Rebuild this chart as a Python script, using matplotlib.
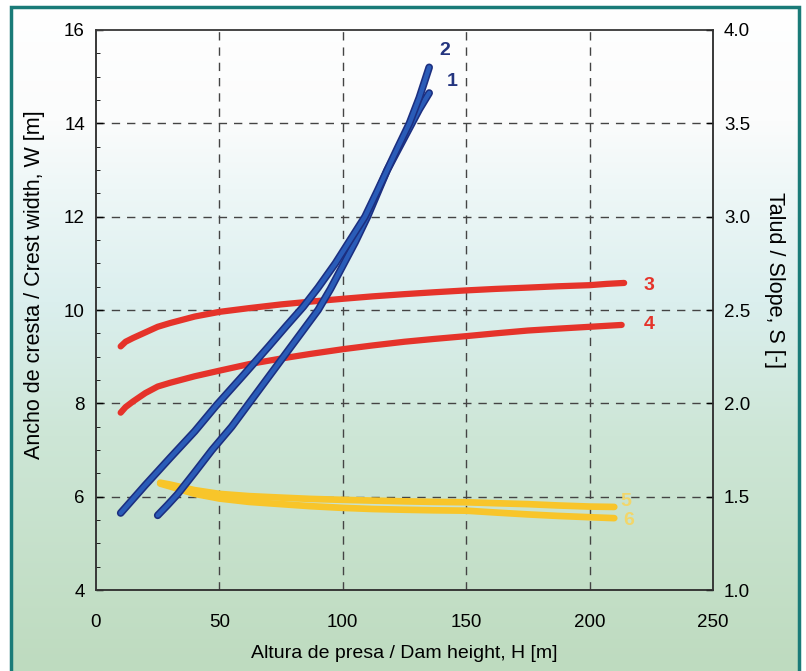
import numpy as np
import matplotlib
matplotlib.use('Agg')
import matplotlib.pyplot as plt
from matplotlib.colors import LinearSegmentedColormap
from matplotlib.patches import Rectangle
from matplotlib.ticker import MultipleLocator

# crest width curves (left axis, W [m])
H1 = [25, 29, 33, 40, 47, 55, 62, 69, 76, 83, 90, 95, 100, 105, 110, 114, 118, 123, 128, 131, 135]
W1 = [5.6, 5.82, 6.05, 6.52, 7.0, 7.5, 8.0, 8.5, 9.0, 9.5, 10.0, 10.45, 10.95, 11.45, 12.0,
      12.5, 13.0, 13.5, 14.0, 14.3, 14.65]
H2 = [10, 15, 20, 30, 40, 49, 60, 70, 77, 84, 90, 97, 103, 109, 114, 118, 122, 127, 131, 135]
W2 = [5.65, 5.95, 6.25, 6.83, 7.4, 7.97, 8.62, 9.22, 9.65, 10.07, 10.48, 11.0, 11.5, 12.0,
      12.55, 13.0, 13.45, 14.0, 14.55, 15.2]

# slope curves (right axis, S [-])
H3 = [10, 12, 15, 20, 25, 30, 40, 50, 62, 75, 87, 100, 112, 125, 137, 150, 162, 175, 187, 200, 207, 214]
S3 = [2.305, 2.33, 2.35, 2.38, 2.41, 2.43, 2.465, 2.49, 2.51, 2.53, 2.545, 2.56, 2.573,
      2.585, 2.595, 2.605, 2.613, 2.62, 2.627, 2.633, 2.64, 2.645]
H4 = [10, 12, 15, 20, 25, 30, 40, 50, 62, 75, 87, 100, 112, 125, 137, 150, 162, 175, 187, 200, 213]
S4 = [1.95, 1.98, 2.01, 2.055, 2.09, 2.11, 2.145, 2.175, 2.21, 2.24, 2.265, 2.29, 2.31,
      2.33, 2.345, 2.36, 2.375, 2.39, 2.4, 2.41, 2.42]
H5 = [26, 30, 40, 50, 62, 75, 87, 100, 112, 125, 137, 150, 162, 175, 187, 200, 210]
S5 = [1.575, 1.565, 1.535, 1.515, 1.503, 1.495, 1.488, 1.483, 1.479, 1.475, 1.472, 1.47,
      1.465, 1.46, 1.453, 1.447, 1.445]
H6 = [26, 30, 40, 50, 62, 75, 87, 100, 112, 125, 137, 150, 162, 175, 187, 200, 210]
S6 = [1.57, 1.555, 1.515, 1.49, 1.472, 1.46, 1.449, 1.44, 1.434, 1.43, 1.427, 1.425,
      1.415, 1.405, 1.397, 1.39, 1.385]

x_ticks = [0, 50, 100, 150, 200, 250]
w_ticks = [4, 6, 8, 10, 12, 14, 16]
s_ticks = [1.0, 1.5, 2.0, 2.5, 3.0, 3.5, 4.0]

BLUE, BLUE_EDGE = '#2a5cb8', '#1c2f80'
RED = '#e5332a'
YELLOW = '#f8c52a'

plt.rcParams.update({'font.family': 'Liberation Sans', 'font.size': 13.5})
fig = plt.figure(figsize=(8.06, 6.71), dpi=100)

# background gradient + teal frame
bg = fig.add_axes([0, 0, 1, 1], zorder=0)
cmap = LinearSegmentedColormap.from_list('bg', [
    (0.0, '#bedbbf'), (0.35, '#cde6d6'), (0.55, '#dbefee'),
    (0.72, '#eef7f7'), (0.82, '#fbfcfc'), (1.0, '#ffffff')])
grad = np.linspace(0, 1, 256).reshape(-1, 1)
bg.imshow(grad, cmap=cmap, origin='lower', aspect='auto', extent=[0, 1, 0, 1])
bg.add_patch(Rectangle((0, 0.992), 1, 0.008, color='white', transform=bg.transAxes, zorder=2))
bg.add_patch(Rectangle((0, 0), 0.013, 1, color='white', transform=bg.transAxes, zorder=2))
bg.add_patch(Rectangle((0.992, 0), 0.008, 1, color='white', transform=bg.transAxes, zorder=2))
bg.add_patch(Rectangle((0.0135, -0.01), 0.978, 1.0, fill=False, edgecolor='#1a7b78',
                       lw=2.5, transform=bg.transAxes, zorder=3))
bg.set_xlim(0, 1)
bg.set_ylim(0, 1)
bg.axis('off')

ax = fig.add_axes([0.1191, 0.1207, 0.7655, 0.8346], zorder=1)
ax.patch.set_alpha(0)
ax2 = ax.twinx()

ax.set_xlim(0, 250)
ax.set_ylim(4, 16)
ax2.set_ylim(1, 4)
ax.set_xticks(x_ticks)
ax.set_yticks(w_ticks)
ax.yaxis.set_minor_locator(MultipleLocator(0.5))
ax2.set_yticks(s_ticks)
ax2.set_yticklabels([f'{s:.1f}' for s in s_ticks])

for v in x_ticks[1:-1]:
    ax.axvline(v, color='#444444', lw=1.0, ls=(0, (6, 5)), zorder=0.5)
for v in w_ticks[1:-1]:
    ax.axhline(v, color='#444444', lw=1.0, ls=(0, (6, 5)), zorder=0.5)

ax.tick_params(direction='in', length=5, width=1, top=True, pad=8)
ax.tick_params(axis='y', which='minor', direction='in', length=3)
ax.tick_params(axis='x', length=0, pad=17)
ax2.tick_params(direction='in', length=5, width=1, pad=8)
for a in (ax, ax2):
    for sp in a.spines.values():
        sp.set_color('#333333')
        sp.set_linewidth(1.1)
ax.spines['top'].set_color('#777777')

ax.set_xlabel('Altura de presa / Dam height, H [m]', fontsize=14, labelpad=10)
ax.set_ylabel('Ancho de cresta / Crest width, W [m]', fontsize=15.5, va='center')
ax.yaxis.set_label_coords(-0.1, 0.545)
ax2.set_ylabel('Talud / Slope, S [-]', rotation=270, fontsize=15.5, va='center')
ax2.yaxis.set_label_coords(1.1, 0.553)

# curves
for h, s in [(H5, S5), (H6, S6)]:
    ax2.plot(h, s, color=YELLOW, lw=4.8, solid_capstyle='round', zorder=2)
for h, s in [(H3, S3), (H4, S4)]:
    ax2.plot(h, s, color=RED, lw=4.5, solid_capstyle='round', zorder=2)
for h, w in [(H1, W1), (H2, W2)]:
    ax2.plot(h, np.array(w) / 4.0, color=BLUE_EDGE, lw=5.5, solid_capstyle='round', zorder=3)
    ax2.plot(h, np.array(w) / 4.0, color=BLUE, lw=3.2, solid_capstyle='round', zorder=3)

# curve labels
lab = dict(fontsize=14, fontweight='bold', ha='center', va='center')
ax.text(141.5, 15.57, '2', color='#24357f', **lab)
ax.text(144.5, 14.9, '1', color='#24357f', **lab)
ax2.text(224, 2.63, '3', color=RED, **lab)
ax2.text(224, 2.42, '4', color=RED, **lab)
ax2.text(214.5, 1.475, '5', color='#f2d66a', **lab)
ax2.text(216, 1.37, '6', color='#f2d66a', **lab)

fig.savefig('out.png', dpi=100)
